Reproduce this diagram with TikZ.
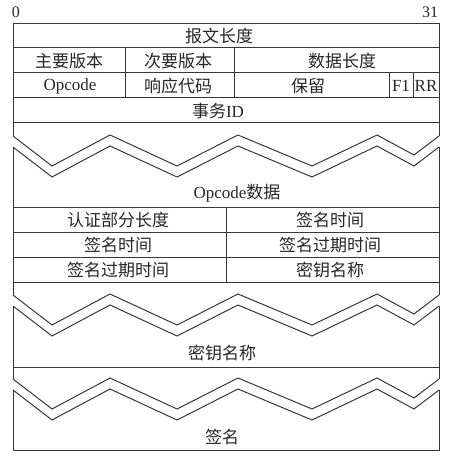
\documentclass[tikz,border=0pt]{standalone}
\usepackage{fontspec}
\setmainfont{Liberation Serif}
\newfontfamily\cjk{Noto Sans CJK SC}
\colorlet{ink}{black!78}
\colorlet{txt}{black!85}
\begin{document}
\begin{tikzpicture}[x=1pt,y=-1pt,
  frame/.style={draw=ink,line width=1pt,line join=miter},
  lbl/.style={text=txt,inner sep=0pt,font=\fontsize{17}{17}\selectfont},
  num/.style={text=txt,inner sep=0pt,font=\fontsize{16}{16}\selectfont}]
\useasboundingbox (0,0) rectangle (451,465);
% header numbers
\node[num] (n0) at (16,12) {0};
\node[num] (n31) at (430,12) {31};
% ---------- top block ----------
\draw[frame] (13,136) -- (13,24) -- (439,24) -- (439,136);
\foreach \yy in {48,73,98,123} \draw[frame] (13,\yy) -- (439,\yy);
\draw[frame] (125,48) -- (125,98);
\draw[frame] (234,48) -- (234,98);
\draw[frame] (389,73) -- (389,98);
\draw[frame] (413,73) -- (413,98);
% zigzag break marks (end of one piece / start of the next)
\foreach \s in {0,159,243}{
  \begin{scope}[shift={(0,\s)}]
    \draw[frame] (13,136) -- (52,166) -- (110,135) -- (177,166) -- (238,135)
      -- (312,166) -- (377,135) -- (414,155) -- (439,136);
    \draw[frame] (13,147) -- (52,177) -- (110,146) -- (177,177) -- (238,146)
      -- (312,177) -- (377,146) -- (414,166) -- (439,147);
  \end{scope}
}
% ---------- middle block ----------
\draw[frame] (13,147) -- (13,295);
\draw[frame] (439,147) -- (439,295);
\foreach \yy in {207,232,257,282} \draw[frame] (13,\yy) -- (439,\yy);
\draw[frame] (226,207) -- (226,282);
% ---------- third block ----------
\draw[frame] (13,306) -- (13,379);
\draw[frame] (439,306) -- (439,379);
\draw[frame] (13,367) -- (439,367);
% ---------- last block ----------
\draw[frame] (13,390) -- (13,450) -- (439,450) -- (439,390);
% ---------- labels ----------
\node[lbl] (t1) at (219,36) {\cjk 报文长度};
\node[lbl] (t2a) at (69,61) {\cjk 主要版本};
\node[lbl] (t2b) at (178,61) {\cjk 次要版本};
\node[lbl] (t2c) at (342,61) {\cjk 数据长度};
\node[lbl] (t3a) at (70,86) {Opcode};
\node[lbl] (t3b) at (178,86) {\cjk 响应代码};
\node[lbl] (t3c) at (308,86) {\cjk 保留};
\node[lbl] (t3d) at (401,86) {F1};
\node[lbl] (t3e) at (426,86) {RR};
\node[lbl] (t4) at (218,111) {{\cjk 事务}ID};
\node[lbl] (t5) at (237,193) {Opcode{\cjk 数据}};
\node[lbl] (t6a) at (118,220) {\cjk 认证部分长度};
\node[lbl] (t6b) at (330,220) {\cjk 签名时间};
\node[lbl] (t7a) at (118,245) {\cjk 签名时间};
\node[lbl] (t7b) at (330,245) {\cjk 签名过期时间};
\node[lbl] (t8a) at (118,270) {\cjk 签名过期时间};
\node[lbl] (t8b) at (330,270) {\cjk 密钥名称};
\node[lbl] (t9) at (222,353) {\cjk 密钥名称};
\node[lbl] (t10) at (222,437) {\cjk 签名};
\end{tikzpicture}
\end{document}
